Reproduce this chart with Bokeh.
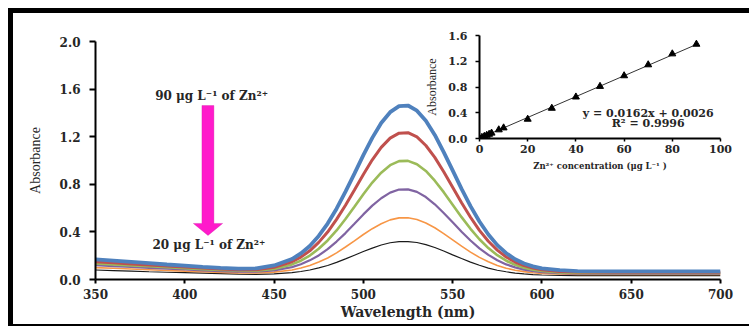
from bokeh.plotting import figure
from bokeh.layouts import column
from bokeh.models import Range1d, FixedTicker, PrintfTickFormatter, Label, PolyAnnotation
from bokeh.embed import file_html
from bokeh.resources import INLINE

# ---------------- data: UV-Vis spectra ----------------
wavelength = [350, 360, 370, 380, 390, 400, 410, 420, 430, 440, 450, 460, 465, 470, 475,
              480, 485, 490, 495, 500, 505, 510, 515, 520, 525, 530, 535, 540, 545, 550,
              555, 560, 565, 570, 575, 580, 585, 590, 595, 600, 610, 620, 640, 660, 680, 700]

abs_90 = [0.170, 0.159, 0.148, 0.137, 0.126, 0.116, 0.106, 0.097, 0.092, 0.093, 0.118, 0.172,
          0.219, 0.282, 0.366, 0.470, 0.595, 0.738, 0.890, 1.045, 1.190, 1.315, 1.406, 1.457,
          1.462, 1.419, 1.334, 1.215, 1.071, 0.917, 0.762, 0.617, 0.487, 0.378, 0.289, 0.221,
          0.170, 0.134, 0.110, 0.093, 0.078, 0.071, 0.069, 0.069, 0.069, 0.069]
abs_75 = [0.150, 0.141, 0.131, 0.122, 0.113, 0.104, 0.096, 0.088, 0.082, 0.082, 0.102, 0.149,
          0.188, 0.241, 0.312, 0.399, 0.505, 0.624, 0.752, 0.883, 1.006, 1.110, 1.188, 1.230,
          1.234, 1.198, 1.126, 1.026, 0.906, 0.775, 0.645, 0.523, 0.413, 0.321, 0.247, 0.189,
          0.147, 0.117, 0.096, 0.082, 0.068, 0.062, 0.061, 0.061, 0.061, 0.061]
abs_60 = [0.135, 0.127, 0.119, 0.111, 0.103, 0.095, 0.087, 0.080, 0.075, 0.074, 0.089, 0.127,
          0.158, 0.201, 0.258, 0.328, 0.412, 0.508, 0.611, 0.716, 0.815, 0.898, 0.961, 0.995,
          0.997, 0.969, 0.912, 0.830, 0.734, 0.629, 0.524, 0.426, 0.338, 0.264, 0.204, 0.158,
          0.123, 0.099, 0.083, 0.071, 0.060, 0.056, 0.055, 0.055, 0.055, 0.055]
abs_45 = [0.120, 0.112, 0.105, 0.098, 0.091, 0.084, 0.077, 0.071, 0.067, 0.065, 0.077, 0.104,
          0.128, 0.161, 0.202, 0.255, 0.319, 0.390, 0.468, 0.547, 0.621, 0.683, 0.730, 0.756,
          0.757, 0.736, 0.693, 0.632, 0.559, 0.481, 0.402, 0.328, 0.262, 0.207, 0.162, 0.127,
          0.102, 0.083, 0.070, 0.062, 0.054, 0.050, 0.049, 0.049, 0.049, 0.049]
abs_30 = [0.100, 0.094, 0.088, 0.082, 0.076, 0.070, 0.065, 0.060, 0.056, 0.054, 0.062, 0.080,
          0.096, 0.118, 0.147, 0.181, 0.224, 0.273, 0.325, 0.378, 0.427, 0.469, 0.501, 0.518,
          0.519, 0.504, 0.475, 0.435, 0.386, 0.333, 0.280, 0.230, 0.186, 0.149, 0.118, 0.095,
          0.078, 0.066, 0.057, 0.051, 0.046, 0.043, 0.042, 0.042, 0.042, 0.042]
abs_20 = [0.080, 0.075, 0.070, 0.065, 0.061, 0.057, 0.053, 0.049, 0.045, 0.043, 0.047, 0.058,
          0.067, 0.080, 0.098, 0.118, 0.144, 0.173, 0.204, 0.235, 0.264, 0.290, 0.309, 0.318,
          0.319, 0.311, 0.293, 0.269, 0.239, 0.207, 0.176, 0.146, 0.120, 0.096, 0.078, 0.065,
          0.054, 0.047, 0.041, 0.038, 0.035, 0.033, 0.032, 0.032, 0.032, 0.032]

series = [
    (abs_20, "#1a1a1a", 1.2),
    (abs_30, "#F79646", 1.6),
    (abs_45, "#8064A2", 2.2),
    (abs_60, "#9BBB59", 2.6),
    (abs_75, "#C0504D", 3.0),
    (abs_90, "#4F81BD", 3.8),
]

x_ticks = [350, 400, 450, 500, 550, 600, 650, 700]
y_ticks = [0.0, 0.4, 0.8, 1.2, 1.6, 2.0]

# ---------------- data: calibration inset ----------------
conc = [0, 1, 2, 3, 4, 5, 8, 10, 20, 30, 40, 50, 60, 70, 80, 90]
conc_abs = [0.000, 0.018, 0.034, 0.050, 0.066, 0.084, 0.135, 0.165, 0.300, 0.470,
            0.645, 0.810, 0.975, 1.145, 1.315, 1.465]
trend_x = [0, 90]
trend_y = [0.0026, 1.4606]
inset_x_ticks = [0, 20, 40, 60, 80, 100]
inset_y_ticks = [0.0, 0.4, 0.8, 1.2, 1.6]

SERIF_B = "DejaVu Serif"
SERIF = "Liberation Serif"
TXT = "#262626"

# ---------------- main figure ----------------
p = figure(width=736, height=311, x_range=Range1d(350, 700), y_range=Range1d(0, 2.0),
           output_backend="svg", toolbar_location=None,
           min_border_left=82, min_border_right=29, min_border_top=28, min_border_bottom=45)
p.outline_line_color = None
p.xgrid.visible = False
p.ygrid.visible = False

for ys, col, lw in series:
    p.line(wavelength, ys, line_color=col, line_width=lw)

xa = p.xaxis[0]
xa.ticker = FixedTicker(ticks=x_ticks)
xa.axis_label = "Wavelength (nm)"
xa.axis_label_text_font = SERIF_B
xa.axis_label_text_font_style = "bold"
xa.axis_label_text_font_size = "14px"
xa.axis_label_text_color = TXT
xa.axis_label_standoff = 2
xa.major_label_text_font = SERIF_B
xa.major_label_text_font_style = "bold"
xa.major_label_text_font_size = "12px"
xa.major_label_text_color = TXT
xa.major_label_standoff = 5
xa.major_tick_out = 4
xa.major_tick_in = 0
xa.minor_tick_line_color = None
xa.axis_line_width = 2
xa.major_tick_line_width = 2

ya = p.yaxis[0]
ya.ticker = FixedTicker(ticks=y_ticks)
ya.formatter = PrintfTickFormatter(format="%.1f")
ya.axis_label = "Absorbance"
ya.axis_label_text_font = SERIF
ya.axis_label_text_font_style = "normal"
ya.axis_label_text_font_size = "14px"
ya.axis_label_text_color = TXT
ya.axis_label_standoff = 14
ya.major_label_text_font = SERIF_B
ya.major_label_text_font_style = "bold"
ya.major_label_text_font_size = "12px"
ya.major_label_text_color = TXT
ya.major_label_standoff = 9
ya.major_tick_out = 6
ya.major_tick_in = 0
ya.minor_tick_line_color = None
ya.axis_line_width = 2
ya.major_tick_line_width = 2

# arrow annotation (magenta)
arrow = PolyAnnotation(
    xs=[409.6, 416.3, 416.3, 421.2, 413.0, 404.8, 409.6],
    ys=[1.462, 1.462, 0.471, 0.471, 0.370, 0.471, 0.471],
    xs_units="data", ys_units="data",
    fill_color="#FF1ACB", fill_alpha=1.0, line_color="#C8109E", line_width=1)
p.add_layout(arrow)

for txt, xx, yy in [("90 μg L⁻¹ of Zn²⁺", 415.0, 1.546), ("20 μg L⁻¹ of Zn²⁺", 413.5, 0.286)]:
    p.add_layout(Label(x=xx, y=yy, text=txt, text_align="center", text_baseline="middle",
                       text_font=SERIF_B, text_font_style="bold", text_font_size="12px",
                       text_color=TXT))

# ---------------- inset figure ----------------
q = figure(width=352, height=150, x_range=Range1d(0, 100), y_range=Range1d(0, 1.6),
           output_backend="svg", toolbar_location=None,
           min_border_left=82, min_border_right=29, min_border_top=9, min_border_bottom=38,
           background_fill_alpha=0, border_fill_alpha=0)
q.outline_line_color = None
q.xgrid.visible = False
q.ygrid.visible = False

q.line(trend_x, trend_y, line_color="#333333", line_width=1)
q.scatter(conc, conc_abs, marker="triangle", size=7, fill_color="#000000", line_color="#000000")

qx = q.xaxis[0]
qx.ticker = FixedTicker(ticks=inset_x_ticks)
qx.axis_label = "Zn²⁺ concentration (μg L⁻¹ )"
qx.axis_label_text_font = SERIF_B
qx.axis_label_text_font_style = "bold"
qx.axis_label_text_font_size = "8.5px"
qx.axis_label_text_color = TXT
qx.axis_label_standoff = 5
qx.major_label_text_font = SERIF_B
qx.major_label_text_font_style = "bold"
qx.major_label_text_font_size = "11px"
qx.major_label_text_color = TXT
qx.major_label_standoff = 3
qx.major_tick_out = 3
qx.major_tick_in = 0
qx.minor_tick_line_color = None
qx.axis_line_width = 2
qx.major_tick_line_width = 1.5

qy = q.yaxis[0]
qy.ticker = FixedTicker(ticks=inset_y_ticks)
qy.formatter = PrintfTickFormatter(format="%.1f")
qy.axis_label = "Absorbance"
qy.axis_label_text_font = SERIF
qy.axis_label_text_font_style = "normal"
qy.axis_label_text_font_size = "12px"
qy.axis_label_text_color = TXT
qy.axis_label_standoff = 6
qy.major_label_text_font = SERIF_B
qy.major_label_text_font_style = "bold"
qy.major_label_text_font_size = "11px"
qy.major_label_text_color = TXT
qy.major_label_standoff = 8
qy.major_tick_out = 4
qy.major_tick_in = 0
qy.minor_tick_line_color = None
qy.axis_line_width = 2
qy.major_tick_line_width = 1.5

for txt, yy in [("y = 0.0162x + 0.0026", 0.39), ("R² = 0.9996", 0.23)]:
    q.add_layout(Label(x=70.0, y=yy, text=txt, text_align="center", text_baseline="middle",
                       text_font=SERIF_B, text_font_style="bold", text_font_size="11px",
                       text_color=TXT))

q.margin = (-298, 0, 148, 384)

layout = column(p, q, spacing=0,
                styles={"border-left": "5px solid #000", "border-top": "5px solid #000",
                        "border-bottom": "2px solid #000"})
layout.margin = (8, 0, 0, 8)

open("out.html", "w").write(file_html(layout, INLINE))
